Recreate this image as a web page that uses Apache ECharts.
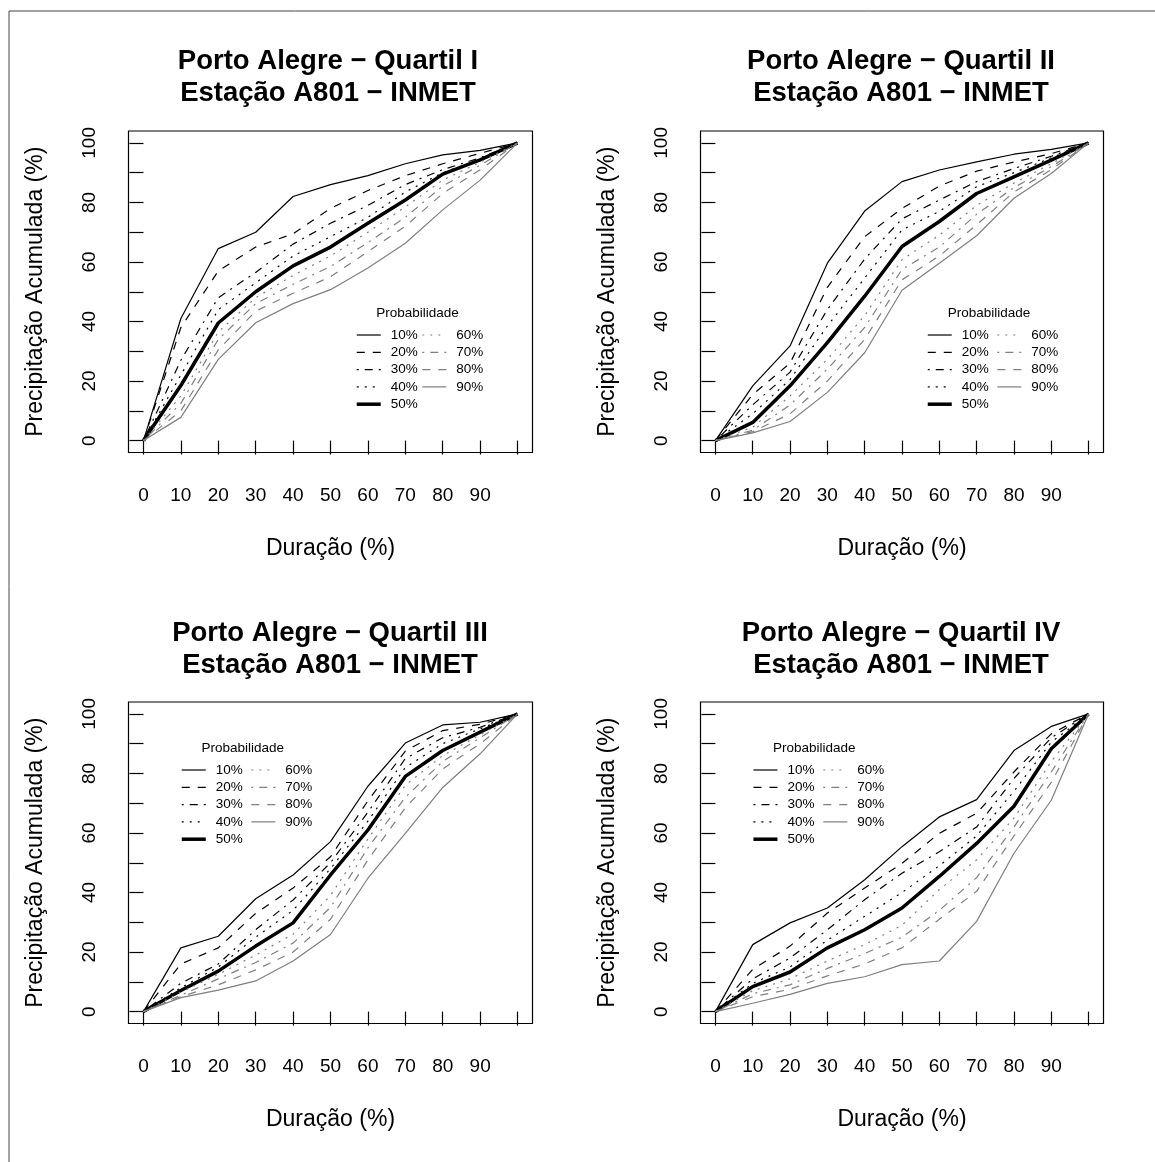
<!DOCTYPE html>
<html><head><meta charset="utf-8">
<script src="https://cdn.jsdelivr.net/npm/echarts@6/dist/echarts.min.js"></script>
<style>html,body{margin:0;padding:0;background:#fff}#c{width:1155px;height:1162px}</style>
</head><body><div id="c"></div>
<script>
// ---------- data ----------
const durations = [0, 10, 20, 30, 40, 50, 60, 70, 80, 90, 100];
const xTickValues = [0, 10, 20, 30, 40, 50, 60, 70, 80, 90, 100];
const xLabelValues = [0, 10, 20, 30, 40, 50, 60, 70, 80, 90];
const yTickValues = [0, 10, 20, 30, 40, 50, 60, 70, 80, 90, 100];
const yLabelValues = [0, 20, 40, 60, 80, 100];
const probabilities = ['10%', '20%', '30%', '40%', '50%', '60%', '70%', '80%', '90%'];
const panelTitles = [
  'Porto Alegre \u2212 Quartil I\nEsta\u00e7\u00e3o A801 \u2212 INMET',
  'Porto Alegre \u2212 Quartil II\nEsta\u00e7\u00e3o A801 \u2212 INMET',
  'Porto Alegre \u2212 Quartil III\nEsta\u00e7\u00e3o A801 \u2212 INMET',
  'Porto Alegre \u2212 Quartil IV\nEsta\u00e7\u00e3o A801 \u2212 INMET'
];
const xAxisTitle = 'Dura\u00e7\u00e3o (%)';
const yAxisTitle = 'Precipita\u00e7\u00e3o Acumulada (%)';
const legendTitle = 'Probabilidade';

const quartilI = [
  [0, 41, 64.5, 70, 82, 86, 89, 93, 96, 97.5, 100],
  [0, 38, 57, 65, 69.5, 78, 84, 89, 93, 96.5, 100],
  [0, 27, 48, 56.5, 66, 73, 79, 86, 91, 95, 100],
  [0, 22, 44, 53, 62, 68.5, 75, 83.5, 90, 94.5, 100],
  [0, 18.5, 39.5, 50, 58.7, 65, 73, 80.8, 89.5, 94.3, 100],
  [0, 15, 36.5, 48, 55.5, 62, 70, 78.5, 87.5, 93.5, 100],
  [0, 12.5, 34, 46, 52.5, 58.5, 66.5, 75, 85.5, 92.5, 100],
  [0, 10, 30.5, 43.5, 49.5, 55, 63.5, 72, 83, 91, 100],
  [0, 7.8, 27.3, 39.6, 46, 50.7, 58, 66.3, 77.5, 87.5, 100]
];
const quartilII = [
  [0, 18.4, 31.8, 59.6, 77.1, 87, 90.9, 93.6, 96.2, 97.8, 100],
  [0, 15.5, 26, 51.5, 68.5, 78, 85.5, 90.5, 93.6, 96.4, 100],
  [0, 12, 23, 44, 61, 74.5, 80.8, 87, 91.4, 95.5, 100],
  [0, 9, 20.5, 38.5, 54.6, 70.8, 77, 85.3, 90, 95, 100],
  [0, 6.1, 18.4, 32.9, 48.5, 65.2, 73.6, 83, 88.6, 94.2, 100],
  [0, 4.5, 15, 27.3, 42, 60.8, 69, 79, 86.5, 93, 100],
  [0, 3.5, 12, 24, 38, 57.5, 65, 76, 85, 92, 100],
  [0, 3, 9, 20, 34, 54, 62, 72.5, 83.5, 91, 100],
  [0, 2.6, 6.4, 16.2, 29.5, 50.5, 59.6, 68.8, 81.4, 89.7, 100]
];
const quartilIII = [
  [0, 21.4, 25.3, 37.9, 45.9, 57.1, 75.7, 90.2, 96.3, 97.2, 100],
  [0, 16, 21.4, 33, 41.5, 52, 70.8, 87.5, 94.4, 96.5, 100],
  [0, 9.5, 16, 27.5, 37.5, 50, 67, 85, 92, 95.5, 100],
  [0, 8, 15, 25, 34, 48, 64, 82, 90, 95, 100],
  [0, 7.1, 13.6, 22, 29.8, 45.9, 61, 79, 87.7, 93.9, 100],
  [0, 6.5, 12.5, 19, 26, 39, 58, 76, 86, 93, 100],
  [0, 5.5, 11, 16.5, 23, 35, 55, 72, 84, 92, 100],
  [0, 5, 9, 14, 20, 31, 51, 68.5, 81.5, 90, 100],
  [0, 4.7, 7.2, 10.3, 17, 25.9, 44.8, 59.9, 75.3, 86.6, 100]
];
const quartilIV = [
  [0, 22.5, 29.8, 34.8, 44.3, 55.4, 65.4, 71.2, 87.7, 95.8, 100],
  [0, 14.2, 22, 33.1, 41.5, 49.8, 59.9, 66.6, 80.5, 93.3, 100],
  [0, 11, 18, 27.5, 37.6, 46.5, 53.7, 62, 78.3, 92, 100],
  [0, 9.5, 15, 24, 32, 40, 49, 59, 74, 90.5, 100],
  [0, 8.4, 13.3, 21.4, 27.5, 34.8, 45.4, 56.5, 69, 88.3, 100],
  [0, 7, 11, 17, 22.5, 29, 41, 51, 65, 84, 100],
  [0, 6, 9, 14.5, 19.5, 25, 34, 45, 62, 80.5, 100],
  [0, 5, 7.5, 12, 16, 21.4, 31, 40.4, 59, 77, 100],
  [0, 2.8, 5.8, 9.5, 11.7, 15.8, 17, 30.3, 53.2, 71, 100]
];
const panelData = [quartilI, quartilII, quartilIII, quartilIV];

// ---------- styles ----------
const FONT = '"Liberation Sans", Arial, Helvetica, sans-serif';
const GRAY = '#7f7f7f';
const lineColors = ['#000', '#000', '#000', '#000', '#000', GRAY, GRAY, GRAY, GRAY];
const lineDashes = ['solid', [8, 8], [2, 6, 8, 6], [2, 6], 'solid', [2, 6], [2, 6, 8, 6], [8, 8], 'solid'];
const lineWidths = [1.2, 1.2, 1.2, 1.2, 3.5, 1.2, 1.2, 1.2, 1.2];

const layout = [
  { left: 128.5, top: 131, width: 404, height: 321.5, titleX: 328, titleY: 45, leg1: [355, 328], leg2: [421.7, 328], legTitle: [417.5, 313] },
  { left: 700.5, top: 131, width: 403, height: 321.5, titleX: 901, titleY: 45, leg1: [926, 328], leg2: [996.7, 328], legTitle: [989, 313] },
  { left: 128.5, top: 702, width: 404, height: 321.5, titleX: 330, titleY: 617, leg1: [180, 763], leg2: [250.7, 763], legTitle: [242.8, 748.3] },
  { left: 700.5, top: 702, width: 403, height: 321.5, titleX: 901, titleY: 617, leg1: [751.7, 763], leg2: [822.7, 763], legTitle: [814.2, 748.3] }
];

const grids = [], xAxes = [], yAxes = [], titles = [], legends = [], series = [];
const graphics = [
  { type: 'line', shape: { x1: 9, y1: 11, x2: 1155, y2: 11 }, style: { stroke: '#444', lineWidth: 1 } },
  { type: 'line', shape: { x1: 9, y1: 11, x2: 9, y2: 1162 }, style: { stroke: '#444', lineWidth: 1 } }
];

layout.forEach((L, p) => {
  grids.push({ left: L.left, top: L.top, width: L.width, height: L.height, show: true,
    borderColor: '#000', borderWidth: 1.2, backgroundColor: 'transparent', containLabel: false, outerBoundsMode: 'none' });
  xAxes.push({
    gridIndex: p, type: 'value', min: -4, max: 104,
    axisLine: { show: false }, splitLine: { show: false },
    axisTick: { show: true, length: 14, inside: false, customValues: xTickValues, lineStyle: { color: '#000', width: 1.2 } },
    axisLabel: { customValues: xLabelValues, margin: 34, fontSize: 19, color: '#000', fontFamily: FONT },
    name: xAxisTitle, nameLocation: 'middle', nameGap: 85,
    nameTextStyle: { fontSize: 23, color: '#000', fontFamily: FONT }
  });
  yAxes.push({
    gridIndex: p, type: 'value', min: -4, max: 104,
    axisLine: { show: false }, splitLine: { show: false },
    axisTick: { show: true, length: 14, inside: false, customValues: yTickValues, lineStyle: { color: '#000', width: 1.2 } },
    axisLabel: { customValues: yLabelValues, rotate: 90, margin: 29, fontSize: 19, color: '#000', fontFamily: FONT },
    name: yAxisTitle, nameLocation: 'middle', nameGap: 81.5,
    nameTextStyle: { fontSize: 23, color: '#000', fontFamily: FONT }
  });
  titles.push({
    text: panelTitles[p], left: L.titleX, top: L.titleY, textAlign: 'center', padding: 0,
    textStyle: { fontSize: 27.5, fontWeight: 'bold', color: '#000', lineHeight: 32, fontFamily: FONT }
  });
  const legBase = {
    orient: 'vertical', itemWidth: 24, itemHeight: 14, itemGap: 3.3, padding: 0, selectedMode: false,
    textStyle: { fontSize: 13.5, color: '#000', fontFamily: FONT, padding: [0, 0, 0, 5] },
    itemStyle: { opacity: 0 }, lineStyle: { width: 'inherit' }
  };
  legends.push(Object.assign({}, legBase, { data: probabilities.slice(0, 5), left: L.leg1[0], top: L.leg1[1] }));
  legends.push(Object.assign({}, legBase, { data: probabilities.slice(5), left: L.leg2[0], top: L.leg2[1] }));
  graphics.push({ type: 'text', x: L.legTitle[0], y: L.legTitle[1],
    style: { text: legendTitle, fontSize: 13.5, fontFamily: FONT, fill: '#000', textAlign: 'center', textVerticalAlign: 'middle' } });

  panelData[p].forEach((vals, k) => {
    series.push({
      type: 'line', name: probabilities[k], xAxisIndex: p, yAxisIndex: p,
      data: durations.map((d, j) => [d, vals[j]]),
      symbol: 'none', showSymbol: false, silent: true, animation: false,
      lineStyle: { color: lineColors[k], width: lineWidths[k], type: lineDashes[k], cap: 'butt', join: 'round' },
      itemStyle: { color: lineColors[k] }
    });
  });
});

const chart = echarts.init(document.getElementById('c'), null, { renderer: 'canvas' });
chart.setOption({
  animation: false, backgroundColor: '#fff',
  grid: grids, xAxis: xAxes, yAxis: yAxes, title: titles, legend: legends, series: series, graphic: graphics
});
</script></body></html>
